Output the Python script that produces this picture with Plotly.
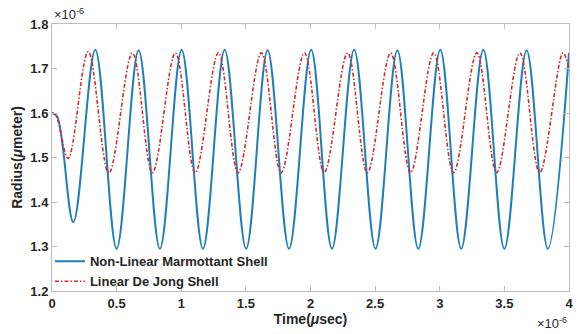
import plotly.graph_objects as go

# Bubble radius (x1e-6 m) versus time (x1e-6 s): start point and successive extrema
marmottant_t = [0.0, 0.04, 0.165, 0.335, 0.500, 0.670, 0.835, 1.003, 1.168, 1.336, 1.502,
                1.668, 1.834, 2.005, 2.166, 2.338, 2.503, 2.672, 2.834, 3.004, 3.166,
                3.337, 3.500, 3.672, 3.836, 4.0]
marmottant_r = [1.600, 1.592, 1.355, 1.742, 1.295, 1.741, 1.295, 1.742, 1.295, 1.742, 1.295,
                1.741, 1.295, 1.742, 1.295, 1.742, 1.295, 1.741, 1.295, 1.742, 1.295,
                1.742, 1.295, 1.741, 1.295, 1.735]

dejong_t = [0.0, 0.03, 0.125, 0.280, 0.440, 0.622, 0.777, 0.955, 1.108, 1.288, 1.440,
            1.620, 1.773, 1.953, 2.106, 2.287, 2.440, 2.620, 2.774, 2.953, 3.107,
            3.287, 3.440, 3.620, 3.773, 3.953, 4.0]
dejong_r = [1.600, 1.595, 1.498, 1.738, 1.465, 1.735, 1.466, 1.735, 1.466, 1.735, 1.466,
            1.735, 1.466, 1.735, 1.466, 1.735, 1.466, 1.735, 1.466, 1.735, 1.466,
            1.735, 1.466, 1.735, 1.466, 1.735, 1.700]

x_ticks = [0, 0.5, 1, 1.5, 2, 2.5, 3, 3.5, 4]
x_tick_text = ["0", "0.5", "1", "1.5", "2", "2.5", "3", "3.5", "4"]
y_ticks = [1.2, 1.3, 1.4, 1.5, 1.6, 1.7, 1.8]
y_tick_text = ["1.2", "1.3", "1.4", "1.5", "1.6", "1.7", "1.8"]

FONT = "Liberation Sans"
TXT = "#262626"
AX = "#bdbdbd"

fig = go.Figure()
fig.add_trace(go.Scatter(
    x=marmottant_t, y=marmottant_r, mode="lines",
    name="<b>Non-Linear Marmottant Shell</b>",
    line=dict(color="#1f7fb8", width=2, shape="spline", smoothing=1.0),
))
fig.add_trace(go.Scatter(
    x=dejong_t, y=dejong_r, mode="lines",
    name="<b>Linear De Jong Shell</b>",
    line=dict(color="#d42a2a", width=1.6, dash="4px,2px,1.5px,2px",
              shape="spline", smoothing=1.0),
))

axis_common = dict(
    showline=True, linecolor=AX, linewidth=1, mirror="ticks",
    ticks="inside", ticklen=5, tickcolor=AX, showgrid=False, zeroline=False,
    tickfont=dict(family=FONT, size=13, color=TXT),
)

fig.update_xaxes(
    range=[0, 4], tickvals=x_ticks, ticktext=["<b>%s</b>" % t for t in x_tick_text],
    title=dict(text="<b>Time(<i>\u03bc</i>sec)</b>", font=dict(family=FONT, size=14, color=TXT),
               standoff=2),
    **axis_common,
)
fig.update_yaxes(
    range=[1.2, 1.8], tickvals=y_ticks, ticktext=["<b>%s</b>" % t for t in y_tick_text],
    title=dict(text="<b>Radius(<i>\u03bc</i>meter)</b>", font=dict(family=FONT, size=14, color=TXT),
               standoff=4),
    **axis_common,
)

fig.add_annotation(xref="paper", yref="paper", x=0, y=1, xanchor="left", yanchor="bottom",
                   text="\u00d710<sup>-6</sup>", showarrow=False,
                   font=dict(family=FONT, size=13, color=TXT))
fig.add_annotation(xref="paper", yref="paper", x=1, y=0, xanchor="right", yanchor="top", yshift=-22,
                   text="\u00d710<sup>-6</sup>", showarrow=False,
                   font=dict(family=FONT, size=13, color=TXT))

fig.update_layout(
    width=579, height=334,
    margin=dict(l=52, r=6, t=24, b=43),
    paper_bgcolor="white", plot_bgcolor="white",
    showlegend=True,
    legend=dict(x=-0.004, y=-0.02, xanchor="left", yanchor="bottom",
                bgcolor="rgba(255,255,255,0)", borderwidth=0,
                font=dict(family=FONT, size=13, color=TXT),
                tracegroupgap=0, itemwidth=30),
)

fig.write_html("out.html")
